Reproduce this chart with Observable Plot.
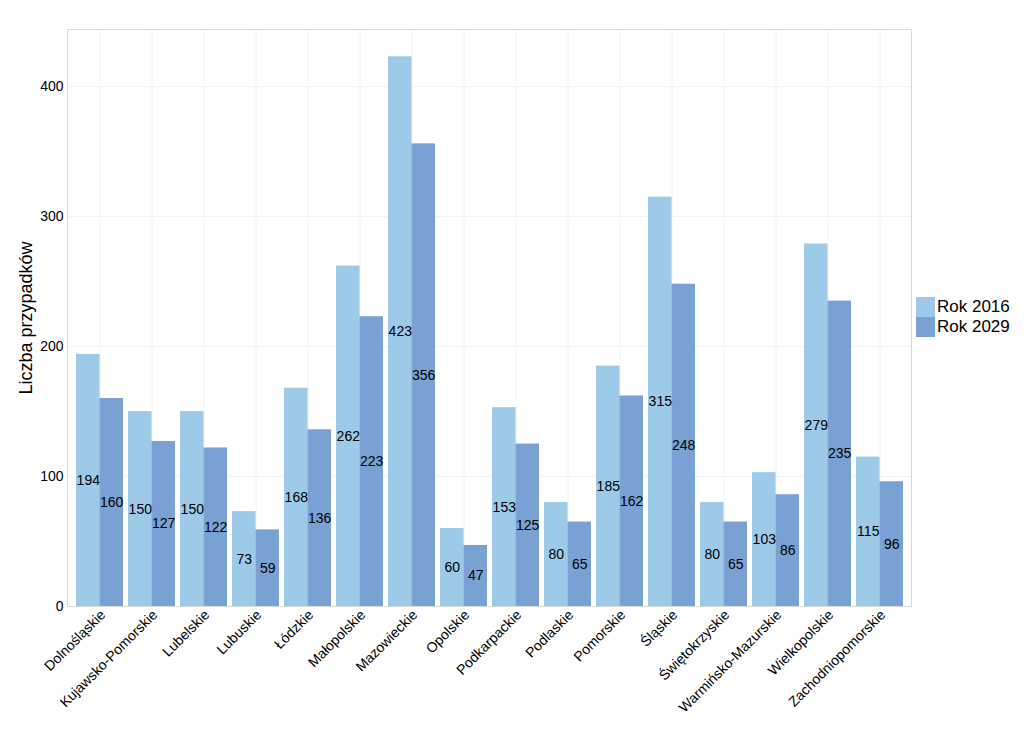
<!DOCTYPE html>
<html>
<head>
<meta charset="utf-8">
<script src="https://cdn.jsdelivr.net/npm/d3@7"></script>
<script src="https://cdn.jsdelivr.net/npm/@observablehq/plot@0.6"></script>
<style>
  body { margin: 0; background: #fff; font-family: "Liberation Sans", Arial, sans-serif; }
  #wrap { position: relative; width: 1024px; height: 751px; }
  #legend { position: absolute; left: 916px; top: 297px; font-size: 17px; color: #000; }
  .item { display: flex; align-items: center; height: 20px; }
  .sw { width: 19px; height: 20px; margin-right: 2px; }
</style>
</head>
<body>
<div id="wrap"><div id="legend"></div></div>
<script>
const categories = ["Dolnośląskie","Kujawsko-Pomorskie","Lubelskie","Lubuskie","Łódzkie","Małopolskie","Mazowieckie","Opolskie","Podkarpackie","Podlaskie","Pomorskie","Śląskie","Świętokrzyskie","Warmińsko-Mazurskie","Wielkopolskie","Zachodniopomorskie"];
const years = ["Rok 2016", "Rok 2029"];
const values2016 = [194,150,150,73,168,262,423,60,153,80,185,315,80,103,279,115];
const values2029 = [160,127,122,59,136,223,356,47,125,65,162,248,65,86,235,96];
const yTicks = [0,100,200,300,400];
const colors = ["#9ecae9", "#7aa1d3"];

const data2016 = categories.map((c, i) => ({cat: c, value: values2016[i]}));
const data2029 = categories.map((c, i) => ({cat: c, value: values2029[i]}));

const W = 1024, ML = 67, MR = 113;
const padInner = 0.1, padOuter = 0.15;
const step = (W - ML - MR) / (categories.length - padInner + 2 * padOuter);
const half = step * (1 - padInner) / 2;

const chart = Plot.plot({
  width: W,
  height: 751,
  marginTop: 29,
  marginBottom: 145,
  marginLeft: ML,
  marginRight: MR,
  style: {fontFamily: "'Liberation Sans', Arial, sans-serif", fontSize: "14px", color: "#000", background: "#fff"},
  x: {domain: categories, paddingInner: padInner, paddingOuter: padOuter, label: null},
  y: {domain: [0, 444], label: null},
  marks: [
    Plot.gridX({stroke: "#f2f2f2", strokeOpacity: 1}),
    Plot.gridY(yTicks, {stroke: "#f2f2f2", strokeOpacity: 1}),
    Plot.frame({stroke: "#d9d9d9"}),
    Plot.barY(data2016, {x: "cat", y: "value", fill: colors[0], insetRight: half}),
    Plot.barY(data2029, {x: "cat", y: "value", fill: colors[1], insetLeft: half}),
    Plot.text(data2016, {x: "cat", y: d => d.value / 2, text: d => String(d.value), dx: -half / 2, fontSize: 14, fill: "#000"}),
    Plot.text(data2029, {x: "cat", y: d => d.value / 2, text: d => String(d.value), dx: half / 2, fontSize: 14, fill: "#000"}),
    Plot.axisY(yTicks, {tickSize: 0, tickPadding: 4, fontSize: 14, label: null}),
    Plot.axisY({ticks: [], label: "Liczba przypadków", labelAnchor: "center", labelOffset: 48, labelArrow: "none", fontSize: 18}),
    Plot.axisX({tickRotate: -45, tickSize: 0, tickPadding: 6, dx: 3, fontSize: 14, label: null, textAnchor: "end"})
  ]
});
document.getElementById("wrap").prepend(chart);

const legend = document.getElementById("legend");
years.forEach((y, i) => {
  const it = document.createElement("div");
  it.className = "item";
  it.innerHTML = `<div class="sw" style="background:${colors[i]}"></div><span>${y}</span>`;
  legend.appendChild(it);
});
</script>
</body>
</html>
